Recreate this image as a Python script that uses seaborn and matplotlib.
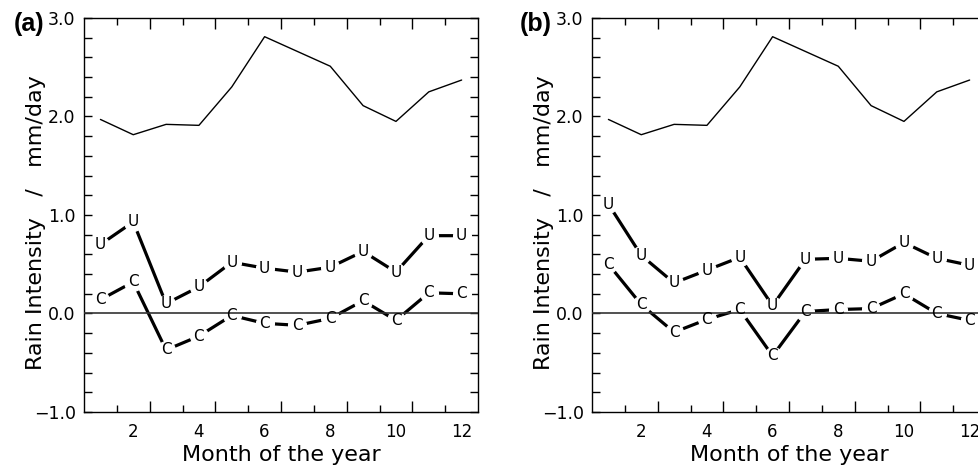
import matplotlib
matplotlib.use("Agg")
import matplotlib.pyplot as plt
import seaborn as sns
import pandas as pd

# Monthly rain intensity (mm/day)
months = list(range(1, 13))
total_rain = [1.97, 1.815, 1.92, 1.91, 2.30, 2.81, 2.66, 2.51, 2.11, 1.95, 2.25, 2.37]

u_a = [0.70, 0.93, 0.10, 0.27, 0.52, 0.46, 0.42, 0.47, 0.63, 0.42, 0.79, 0.79]
c_a = [0.14, 0.32, -0.37, -0.23, -0.02, -0.10, -0.12, -0.05, 0.13, -0.07, 0.21, 0.20]

u_b = [1.11, 0.59, 0.31, 0.44, 0.57, 0.08, 0.55, 0.56, 0.53, 0.72, 0.56, 0.49]
c_b = [0.50, 0.09, -0.19, -0.06, 0.04, -0.43, 0.02, 0.04, 0.05, 0.20, 0.00, -0.07]

ytick_vals = [-1, 0, 1, 2, 3]
ytick_labels = ["\u22121.0", "0.0", "1.0", "2.0", "3.0"]
xtick_label_vals = [2, 4, 6, 8, 10, 12]

sns.set_style("ticks", {"axes.edgecolor": "black", "text.color": "black",
                        "xtick.color": "black", "ytick.color": "black",
                        "axes.labelcolor": "black"})
plt.rcParams["font.family"] = ["DejaVu Sans"]

fig = plt.figure(figsize=(9.79, 4.67), dpi=100)

panels = [("(a)", u_a, c_a, 84), ("(b)", u_b, c_b, 592)]
for tag, u, c, left_px in panels:
    ax = fig.add_axes([left_px / 979, 0.1178, 0.4025, 0.8437])
    df = pd.DataFrame({"month": months, "total": total_rain, "U": u, "C": c})

    sns.lineplot(data=df, x="month", y="total", color="black", lw=1.0, ax=ax)
    for col in ["U", "C"]:
        sns.lineplot(data=df, x="month", y=col, color="black", lw=2.3,
                     marker="o", markersize=13, markerfacecolor="white",
                     markeredgecolor="white", ax=ax)
        for m, v in zip(df["month"], df[col]):
            ax.text(m, v, col, ha="center", va="center", fontsize=11, zorder=4)
    ax.axhline(0, color="#333333", lw=1.2, zorder=3)

    ax.set_xlim(0.5, 12.5)
    ax.set_ylim(-1, 3)

    # y axis: labelled every 1.0, ticks every 0.2 on both sides
    ax.set_yticks(ytick_vals)
    ax.set_yticklabels(ytick_labels)
    ax.yaxis.set_minor_locator(matplotlib.ticker.MultipleLocator(0.2))
    ax.tick_params(axis="y", which="both", direction="in", left=True, right=True,
                   length=6, width=1, labelsize=12.5, pad=6)

    # x axis: ticks between months, labels on even months
    ax.set_xticks([2.5, 4.5, 6.5, 8.5, 10.5])
    ax.set_xticks([1.5, 3.5, 5.5, 7.5, 9.5, 11.5], minor=True)
    ax.tick_params(axis="x", which="major", direction="in", top=True, bottom=True,
                   length=8, width=1, labelbottom=False)
    ax.tick_params(axis="x", which="minor", direction="in", top=True, bottom=True,
                   length=5, width=1)
    sec = ax.secondary_xaxis("bottom")
    sec.set_xticks(xtick_label_vals)
    sec.tick_params(length=0, labelsize=12, pad=8)
    sec.spines["bottom"].set_visible(False)

    for s in ax.spines.values():
        s.set_visible(True)
        s.set_linewidth(1.0)

    ax.set_xlabel("Month of the year", fontsize=16)
    ax.xaxis.set_label_coords(0.5, -0.084)
    ax.set_ylabel("Rain Intensity   /   mm/day", fontsize=16)
    ax.yaxis.set_label_coords(-0.096, 0.48)

    fig.text((left_px - 40) / 979, 1 - 24 / 467, tag, ha="right", va="center",
             fontsize=18, fontweight="bold", family="Liberation Sans")

fig.savefig("out.png", dpi=100)
